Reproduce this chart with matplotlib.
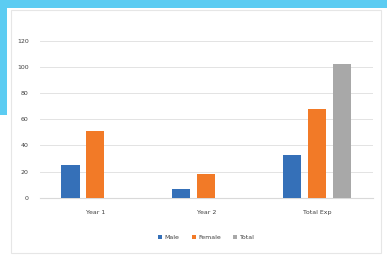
#!/usr/bin/env python3
"""
Grouped bar chart: three series across Year 1, Year 2 and total
"""

import numpy as np
import matplotlib
matplotlib.use('Agg')
import matplotlib.pyplot as plt
from matplotlib.patches import Rectangle

# Data
categories = ['Year 1', 'Year 2', 'Total Exp']
series_names = ['Male', 'Female', 'Total']
male = [25, 7, 33]
female = [51, 18, 68]
total = [0, 0, 102]
y_ticks = [0, 20, 40, 60, 80, 100, 120]

colors = ['#3570B8', '#F27A27', '#A8A8A8']

fig = plt.figure(figsize=(3.87, 2.62), dpi=100)
fig.patch.set_facecolor('white')

# Screenshot frame: cyan bar along the top and a strip down the left side
# (zorder below the axes so the chart stays on top)
fig.add_artist(Rectangle((0, 0.968), 1, 0.032, transform=fig.transFigure,
                         color='#5CCCF2', lw=0, zorder=-2))
fig.add_artist(Rectangle((0, 0.56), 0.017, 0.44, transform=fig.transFigure,
                         color='#5CCCF2', lw=0, zorder=-2))
fig.add_artist(Rectangle((0.028, 0.035), 0.957, 0.925, transform=fig.transFigure,
                         facecolor='white', edgecolor='#E6E6E6', lw=0.8, zorder=-1))

ax = fig.add_axes([0.103, 0.245, 0.86, 0.60])
ax.set_facecolor('none')
x = np.arange(len(categories))
width = 0.165
offsets = [-0.225, 0, 0.225]
for vals, off, color, name in zip([male, female, total], offsets, colors, series_names):
    ax.bar(x + off, vals, width=width, color=color, label=name, zorder=3)

ax.set_xlim(-0.5, 2.5)
ax.set_ylim(0, 120)
ax.set_yticks(y_ticks)
ax.set_xticks(x)
ax.set_xticklabels(categories)
ax.tick_params(axis='both', length=0, labelsize=4.5, colors='#404040')
ax.tick_params(axis='x', pad=9)
ax.tick_params(axis='y', pad=8)
ax.grid(axis='y', color='#E3E3E3', lw=0.7, zorder=0)
for side in ['top', 'right', 'left']:
    ax.spines[side].set_visible(False)
ax.spines['bottom'].set_color('#D9D9D9')

ax.legend(loc='upper center', bbox_to_anchor=(0.5, -0.2), ncol=3, frameon=False,
          fontsize=4.5, handlelength=0.6, handleheight=0.6, columnspacing=2.0,
          handletextpad=0.4, labelcolor='#404040')

plt.savefig('out.png', dpi=100)
